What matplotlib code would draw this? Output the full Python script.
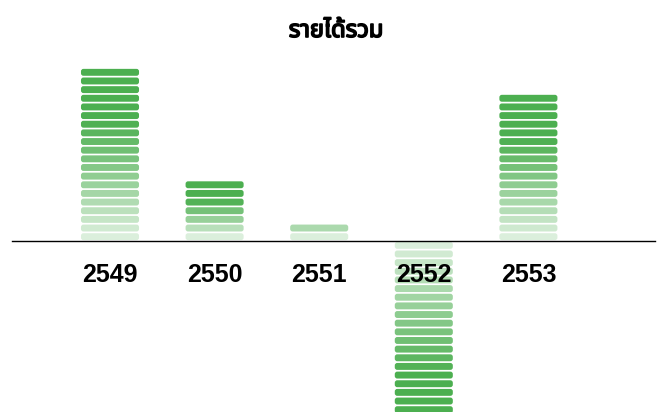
import matplotlib
matplotlib.use('Agg')
import matplotlib.pyplot as plt
import matplotlib.patheffects as pe
from matplotlib.patches import FancyBboxPatch

# Data: years (Thai Buddhist era) and revenue expressed in symbol counts
years = ['2549', '2550', '2551', '2552', '2553']
values = [20, 7, 2, -22, 17]
title = 'รายได้รวม'

green = (0.298, 0.686, 0.314)

fig = plt.figure(figsize=(6.58, 4.12), dpi=100)
# axes: x from 12px to 655px, y from bottom (0px) up to 55px from top
ax = fig.add_axes([12 / 658, 0, 643 / 658, (412 - 55) / 412])

px_x = 104.6   # pixels per category
px_y = 8.65    # pixels per symbol
ax.set_xlim((12 - 110) / px_x, (655 - 110) / px_x)
ax.set_ylim(-171 / px_y, (241 - 55) / px_y)

bar_w = 0.555
seg_h = 0.8
r = 2.5 / px_x
aspect = px_x / px_y

for k, v in enumerate(values):
    n = abs(v)
    sign = 1 if v >= 0 else -1
    full_at = max(0.7 * (n - 1), 3)
    for i in range(n):
        a = min(1.0, 0.2 + 0.8 * i / full_at)
        if sign > 0:
            y0 = i + 0.1
        else:
            y0 = -(i + 0.9)
        p = FancyBboxPatch((k - bar_w / 2, y0), bar_w, seg_h,
                           boxstyle=f'round,pad=0,rounding_size={r}',
                           mutation_aspect=aspect,
                           facecolor=green, edgecolor='none', alpha=a,
                           zorder=1)
        ax.add_patch(p)

# axis line through zero (set before tick labels: set_position resets ticks)
for s in ['top', 'left', 'right']:
    ax.spines[s].set_visible(False)
ax.spines['bottom'].set_position(('data', 0))
ax.spines['bottom'].set_color('black')
ax.spines['bottom'].set_linewidth(1)
ax.spines['bottom'].set_zorder(3)

ax.set_xticks(range(len(years)))
ax.set_xticklabels(years, fontsize=18, fontweight='bold',
                   family=['Liberation Sans', 'DejaVu Sans'])
ax.tick_params(axis='x', length=0, pad=15.5)
ax.set_yticks([])
ax.set_facecolor('none')

fig.text(336 / 658, 1 - 31 / 412, title, ha='center', va='center',
         fontsize=17, fontweight='bold',
         family=['Noto Sans Thai', 'Loma', 'Garuda', 'Tlwg Typo', 'DejaVu Sans'],
         path_effects=[pe.withStroke(linewidth=1.2, foreground='black')])

fig.savefig('out.png', dpi=100)
